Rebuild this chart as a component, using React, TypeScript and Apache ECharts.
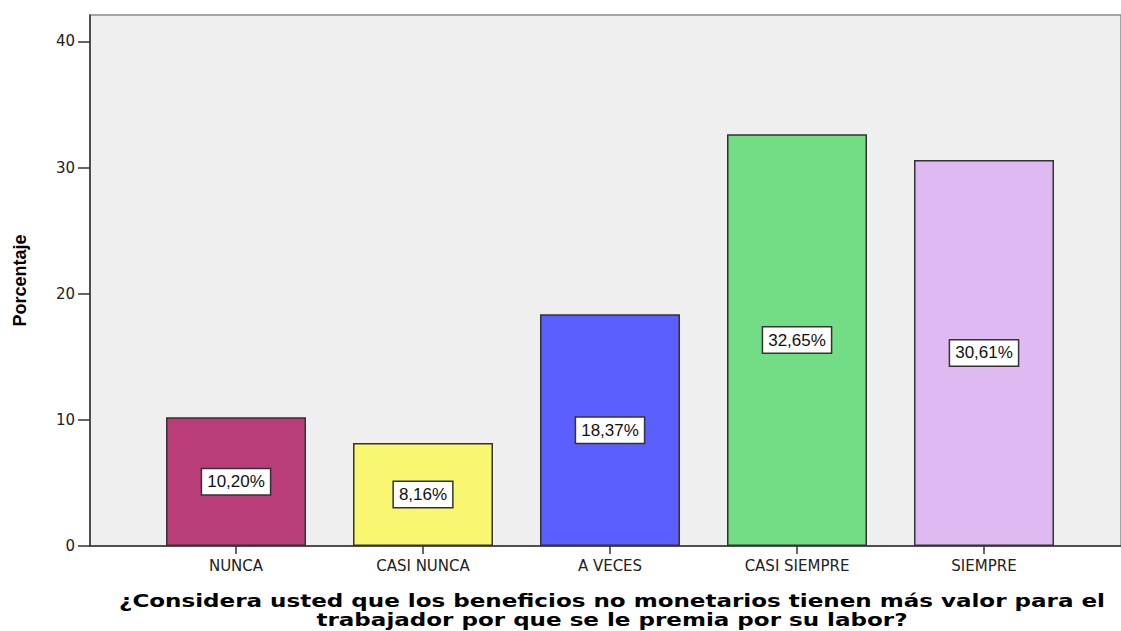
import React, { useEffect, useRef } from "react";
import * as echarts from "echarts";

const categories = ["NUNCA", "CASI NUNCA", "A VECES", "CASI SIEMPRE", "SIEMPRE"];
const values = [10.2, 8.16, 18.37, 32.65, 30.61];
const colors = ["#b93d79", "#f9f770", "#5a5ffd", "#72dd85", "#dfb9f2"];
const yTicks = [0, 10, 20, 30, 40];
const yAxisTitle = "Porcentaje";
const xAxisTitle =
  "¿Considera usted que los beneficios no monetarios tienen más valor para el\ntrabajador por que se le premia por su labor?";

export default function App() {
  const ref = useRef<HTMLDivElement>(null);
  useEffect(() => {
    if (!ref.current) return;
    const chart = echarts.init(ref.current, undefined, { renderer: "svg" });
    const sans = "'Liberation Sans', Arial, sans-serif";
    const wide = "'DejaVu Sans', sans-serif";
    chart.setOption({
      animation: false,
      backgroundColor: "#ffffff",
      grid: [
        {
          left: 90,
          top: 15,
          width: 1041,
          height: 531,
          show: true,
          backgroundColor: "#efefef",
          borderColor: "#8a8a8a",
          borderWidth: 1.5,
        },
        { left: 142.5, top: 15, width: 935, height: 531 },
      ],
      xAxis: [
        {
          gridIndex: 0,
          type: "value",
          min: 0,
          max: 1,
          axisLine: { show: true, lineStyle: { color: "#333", width: 1.5 } },
          axisTick: { show: false },
          axisLabel: { show: false },
          splitLine: { show: false },
        },
        {
          gridIndex: 1,
          type: "category",
          data: categories,
          axisLine: { show: false },
          axisTick: { show: true, alignWithLabel: true, length: 8, lineStyle: { color: "#333", width: 1.5 } },
          axisLabel: { color: "#222", fontSize: 15, fontFamily: wide, margin: 12 },
        },
      ],
      yAxis: [
        {
          gridIndex: 0,
          type: "value",
          min: 0,
          max: 42.1,
          interval: 10,
          name: yAxisTitle,
          nameLocation: "middle",
          nameRotate: 90,
          nameGap: 61,
          nameTextStyle: { fontFamily: sans, fontWeight: "bold", fontSize: 18, color: "#000" },
          axisLine: { show: true, lineStyle: { color: "#333", width: 1.5 } },
          axisTick: { show: true, length: 12, customValues: yTicks, lineStyle: { color: "#333", width: 1.5 } },
          axisLabel: { customValues: yTicks, color: "#222", fontSize: 15, fontFamily: wide, margin: 15 },
          splitLine: { show: false },
        },
        { gridIndex: 1, type: "value", min: 0, max: 42.1, show: false },
      ],
      graphic: [
        {
          type: "text",
          x: 612,
          y: 591,
          scaleX: 1.28,
          style: {
            text: xAxisTitle,
            textAlign: "center",
            textVerticalAlign: "top",
            fontFamily: wide,
            fontWeight: "bold",
            fontSize: 18,
            lineHeight: 19,
            fill: "#000",
          },
        },
      ],
      series: [
        {
          type: "bar",
          xAxisIndex: 1,
          yAxisIndex: 1,
          barWidth: 140,
          data: values.map((v, i) => ({ value: v, itemStyle: { color: colors[i] } })),
          itemStyle: { borderColor: "#333", borderWidth: 1.5 },
          label: {
            show: true,
            position: "inside",
            formatter: (p: any) => p.value.toFixed(2).replace(".", ",") + "%",
            backgroundColor: "#fff",
            borderColor: "#333",
            borderWidth: 1.5,
            padding: [5, 5, 3, 5],
            color: "#111",
            fontSize: 17,
            fontFamily: sans,
          },
        },
      ],
    });
    return () => chart.dispose();
  }, []);
  return (
    <div
      ref={ref}
      style={{ position: "absolute", left: 0, top: 0, width: 1121, height: 631 }}
    />
  );
}
